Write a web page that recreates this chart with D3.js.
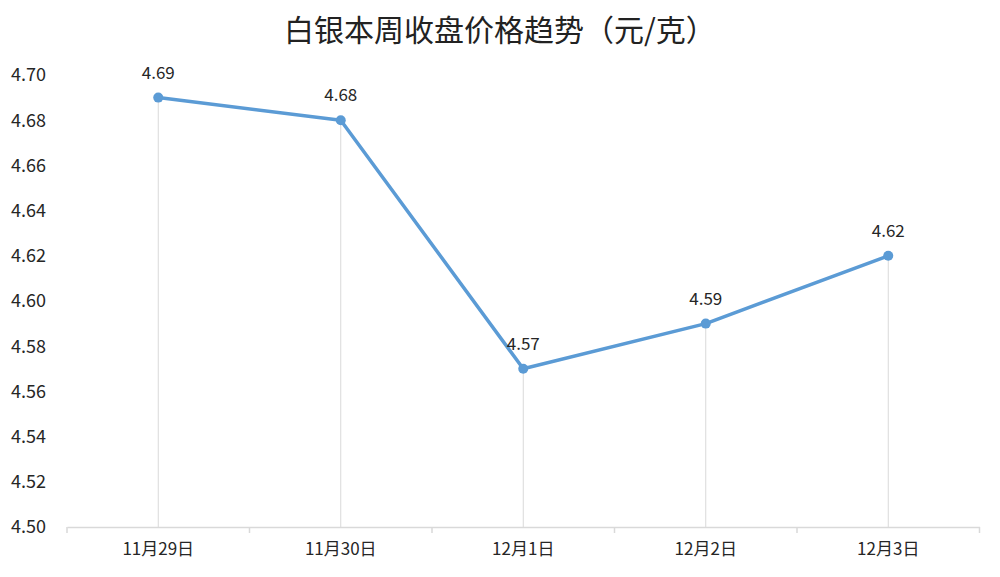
<!DOCTYPE html>
<html>
<head>
<meta charset="utf-8">
<script src="https://cdn.jsdelivr.net/npm/d3@7"></script>
<style>
  body { margin: 0; background: #fff; }
  text { font-family: "Noto Sans CJK SC", "Noto Sans", sans-serif; fill: #262626; }
</style>
</head>
<body>
<div id="chart"></div>
<script>
// chart data
var dates = ["11月29日", "11月30日", "12月1日", "12月2日", "12月3日"];
var prices = [4.69, 4.68, 4.57, 4.59, 4.62];
var yTicks = [4.50, 4.52, 4.54, 4.56, 4.58, 4.60, 4.62, 4.64, 4.66, 4.68, 4.70];
var title = "白银本周收盘价格趋势（元/克）";

function lineChart() {
  var w = 1000;
  var h = 577;
  var left = 67, right = 979.5, top = 75, bottom = 527;

  var svg = d3
    .select("#chart")
    .append("svg")
    .attr("width", w)
    .attr("height", h);

  // scales
  var x = d3.scaleBand().domain(dates).range([left, right]);
  var y = d3.scaleLinear().domain([4.5, 4.7]).range([bottom, top]);
  var cx = (d) => x(d) + x.bandwidth() / 2;

  // title
  svg
    .append("text")
    .attr("x", w / 2)
    .attr("y", 30)
    .attr("dy", "0.35em")
    .attr("text-anchor", "middle")
    .style("font-size", "30px")
    .style("fill", "#222")
    .text(title);

  // y tick labels
  svg
    .append("g")
    .selectAll("text")
    .data(yTicks)
    .enter()
    .append("text")
    .attr("x", 46)
    .attr("y", (d) => y(d))
    .attr("dy", "0.35em")
    .attr("text-anchor", "end")
    .style("font-size", "18px")
    .text((d) => d.toFixed(2));

  // drop lines from the points
  svg
    .append("g")
    .selectAll("line")
    .data(prices)
    .enter()
    .append("line")
    .attr("x1", (d, i) => cx(dates[i]))
    .attr("x2", (d, i) => cx(dates[i]))
    .attr("y1", (d) => y(d))
    .attr("y2", bottom)
    .attr("stroke", "#d9d9d9")
    .attr("stroke-width", 1);

  // x axis
  var xAxis = d3.axisBottom(x).tickSize(0).tickPadding(16);
  var gx = svg
    .append("g")
    .attr("transform", "translate(0," + bottom + ")")
    .call(xAxis);
  gx.select(".domain").attr("stroke", "#d9d9d9").attr("stroke-width", 1.5);
  gx.selectAll("text")
    .style("font-size", "17px")
    .style("font-family", '"Noto Sans CJK SC", sans-serif')
    .attr("fill", "#262626");

  // tick marks between the categories
  var edges = dates.map((d) => x(d)).concat([right]);
  svg
    .append("g")
    .selectAll("line")
    .data(edges)
    .enter()
    .append("line")
    .attr("x1", (d) => d)
    .attr("x2", (d) => d)
    .attr("y1", bottom)
    .attr("y2", bottom + 6)
    .attr("stroke", "#d9d9d9")
    .attr("stroke-width", 1.5);

  // price line
  var line = d3
    .line()
    .x((d, i) => cx(dates[i]))
    .y((d) => y(d));

  svg
    .append("path")
    .datum(prices)
    .attr("fill", "none")
    .attr("stroke", "#5b9bd5")
    .attr("stroke-width", 3.5)
    .attr("stroke-linejoin", "round")
    .attr("d", line);

  // markers
  svg
    .append("g")
    .selectAll("circle")
    .data(prices)
    .enter()
    .append("circle")
    .attr("cx", (d, i) => cx(dates[i]))
    .attr("cy", (d) => y(d))
    .attr("r", 5)
    .attr("fill", "#5b9bd5");

  // value labels
  svg
    .append("g")
    .selectAll("text")
    .data(prices)
    .enter()
    .append("text")
    .attr("x", (d, i) => cx(dates[i]))
    .attr("y", (d) => y(d) - 25)
    .attr("dy", "0.35em")
    .attr("text-anchor", "middle")
    .style("font-size", "17px")
    .text((d) => d.toFixed(2));
}

lineChart();
</script>
</body>
</html>
